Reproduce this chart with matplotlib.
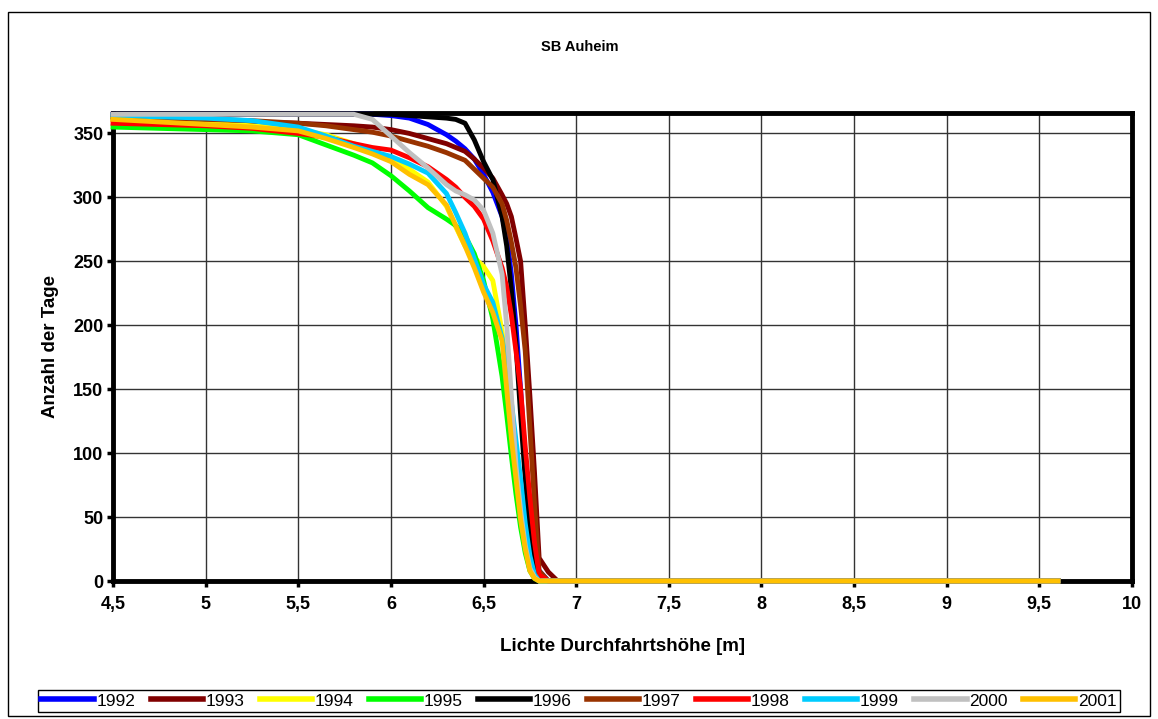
import matplotlib
matplotlib.use("Agg")
import matplotlib.pyplot as plt
from matplotlib.patches import Rectangle

plt.rcParams['font.family'] = ['Liberation Sans', 'DejaVu Sans']

# Lichte Durchfahrtshöhe [m]
hoehe = [4.5, 4.75, 5.0, 5.25, 5.5, 5.65, 5.8, 5.9, 6.0, 6.1, 6.2, 6.3, 6.35, 6.4,
         6.45, 6.5, 6.55, 6.6, 6.625, 6.65, 6.675, 6.7, 6.725, 6.75, 6.775, 6.8,
         6.85, 6.9, 9.6]

# Anzahl der Tage je Jahr
tage_1992 = [365, 365, 365, 365, 365, 365, 365, 365, 364, 362, 357, 349, 344, 338,
             330, 318, 304, 285, 270, 240, 200, 150, 95, 50, 20, 8, 0, 0, 0]
tage_1993 = [362, 361, 360, 359, 358, 357, 356, 355, 353, 350, 346, 342, 339, 336,
             330, 323, 315, 302, 295, 285, 268, 250, 200, 145, 85, 18, 7, 0, 0]
tage_1994 = [361, 360, 358, 356, 353, 349, 342, 336, 330, 322, 312, 293, 277, 262,
             253, 246, 235, 195, 165, 130, 95, 60, 35, 15, 4, 0, 0, 0, 0]
tage_1995 = [355, 354, 353, 352, 349, 341, 333, 327, 317, 305, 292, 283, 278, 270,
             256, 235, 205, 160, 130, 98, 68, 42, 22, 8, 2, 0, 0, 0, 0]
tage_1996 = [365, 365, 365, 365, 365, 365, 365, 365, 365, 364, 363, 362, 361, 358,
             345, 328, 314, 285, 262, 228, 185, 130, 80, 35, 12, 3, 0, 0, 0]
tage_1997 = [363, 362, 361, 360, 358, 356, 353, 351, 348, 344, 340, 335, 332, 329,
             322, 315, 308, 295, 282, 265, 245, 215, 180, 120, 60, 8, 0, 0, 0]
tage_1998 = [358, 357, 356, 354, 350, 347, 342, 339, 337, 331, 324, 314, 308, 300,
             293, 283, 266, 245, 230, 208, 180, 150, 105, 65, 30, 5, 0, 0, 0]
tage_1999 = [364, 363, 362, 360, 355, 348, 340, 336, 332, 326, 319, 303, 288, 272,
             252, 232, 218, 190, 170, 140, 110, 80, 45, 20, 5, 0, 0, 0, 0]
tage_2000 = [365, 365, 365, 365, 365, 365, 365, 361, 348, 335, 323, 310, 305, 302,
             298, 290, 272, 240, 200, 145, 90, 55, 28, 10, 3, 0, 0, 0, 0]
tage_2001 = [361, 359, 357, 355, 352, 346, 339, 334, 328, 318, 310, 294, 278, 262,
             245, 226, 210, 188, 150, 112, 80, 48, 25, 8, 2, 0, 0, 0, 0]

jahre = ["1992", "1993", "1994", "1995", "1996", "1997", "1998", "1999", "2000", "2001"]
reihen = [tage_1992, tage_1993, tage_1994, tage_1995, tage_1996,
          tage_1997, tage_1998, tage_1999, tage_2000, tage_2001]
farben = ["#0000FF", "#800000", "#FFFF00", "#00FF00", "#000000",
          "#993300", "#FF0000", "#00CCFF", "#C0C0C0", "#FFC000"]

x_ticks = [4.5, 5, 5.5, 6, 6.5, 7, 7.5, 8, 8.5, 9, 9.5, 10]
x_labels = ["4,5", "5", "5,5", "6", "6,5", "7", "7,5", "8", "8,5", "9", "9,5", "10"]
y_ticks = [0, 50, 100, 150, 200, 250, 300, 350]

fig = plt.figure(figsize=(11.58, 7.19), dpi=100)
ax = fig.add_axes([113 / 1158, 1 - 581 / 719, (1132 - 113) / 1158, (581 - 113) / 719])

for jahr, werte, farbe in zip(jahre, reihen, farben):
    ax.plot(hoehe, werte, color=farbe, lw=3.5, label=jahr, solid_joinstyle='round',
            clip_on=False, zorder=3)

ax.set_xlim(4.5, 10)
ax.set_ylim(0, 366)
ax.set_xticks(x_ticks)
ax.set_xticklabels(x_labels, fontsize=13, fontweight='bold')
ax.set_yticks(y_ticks)
ax.set_yticklabels([str(v) for v in y_ticks], fontsize=13, fontweight='bold')
ax.tick_params(direction='out', length=4, width=2.5)
ax.tick_params(axis='x', pad=7)
ax.tick_params(axis='y', pad=3)
ax.grid(True, color='#333333', lw=1)
ax.set_axisbelow(True)
for s in ax.spines.values():
    s.set_linewidth(3.5)
    s.set_zorder(2.5)

ax.set_xlabel("Lichte Durchfahrtshöhe [m]", fontsize=13.5, fontweight='bold', labelpad=18)
ax.set_ylabel("Anzahl der Tage", fontsize=13.5, fontweight='bold', labelpad=10)
fig.text(580 / 1158, 1 - 47 / 719, "SB Auheim", ha='center', va='center',
         fontsize=10.5, fontweight='bold')

leg = fig.legend(loc='lower left', ncol=10, mode='expand',
                 bbox_to_anchor=(38 / 1158, 1 - 712 / 719, (1120 - 38) / 1158, 26 / 719),
                 fontsize=12.5, handlelength=3.0, handletextpad=0.15, columnspacing=0.3,
                 borderpad=0.2, borderaxespad=0, fancybox=False, edgecolor='black',
                 framealpha=1)
leg.get_frame().set_linewidth(1)
for h in leg.get_lines():
    h.set_linewidth(4)

fig.patches.append(Rectangle((8 / 1158, 1 - 716 / 719), (1150 - 8) / 1158, (716 - 12) / 719,
                             transform=fig.transFigure, fill=False, edgecolor='black', lw=1))

fig.savefig("out.png", dpi=100)
